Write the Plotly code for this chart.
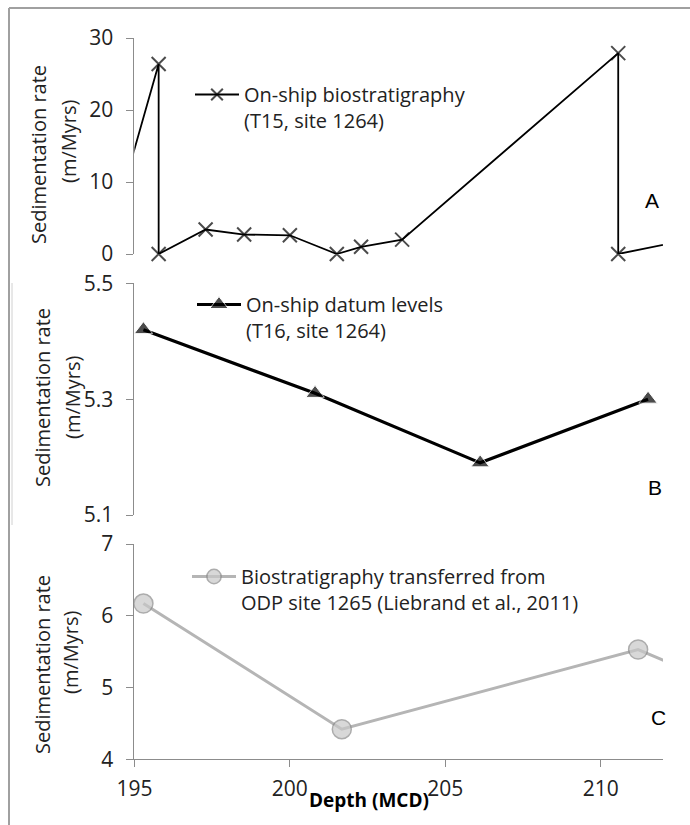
import plotly.graph_objects as go

# Depth (MCD) and sedimentation rate (m/Myrs) for the three age models
depth_a = [194.4, 195.78, 195.78, 197.29, 198.53, 200.0, 201.51, 202.29, 203.61, 210.56, 210.56, 213.5]
rate_a = [5.4, 26.4, 0.0, 3.4, 2.7, 2.6, 0.0, 1.0, 2.0, 27.9, 0.0, 2.6]

depth_b = [195.29, 200.81, 206.12, 211.52]
rate_b = [5.42, 5.31, 5.19, 5.30]

depth_c = [195.29, 201.67, 211.2, 213.5]
rate_c = [6.17, 4.42, 5.53, 5.10]

name_a = "On-ship biostratigraphy<br>(T15, site 1264)"
name_b = "On-ship datum levels<br>(T16, site 1264)"
name_c = "Biostratigraphy transferred from<br>ODP site 1265 (Liebrand et al., 2011)"

x_ticks = [195, 200, 205, 210]
x_range = [195, 212]
ytitle_1 = "Sedimentation rate"
ytitle_2 = "(m/Myrs)"

FONT = "Open Sans"
TXT = "#222222"
AX = "#8c8c8c"
W, H = 690, 825


def sizes(xs, size):
    # markers beyond the depth window are hidden; the line still runs off the edge
    return [size if x_range[0] <= x <= x_range[1] else 0 for x in xs]


fig = go.Figure()

fig.add_trace(go.Scatter(
    x=depth_a, y=rate_a, name=name_a, mode="lines+markers",
    xaxis="x2", yaxis="y", legend="legend", cliponaxis=False,
    line=dict(color="black", width=1.8),
    marker=dict(symbol="x-thin", size=sizes(depth_a, 14),
                line=dict(color="black", width=2)),
))
fig.add_trace(go.Scatter(
    x=depth_b, y=rate_b, name=name_b, mode="lines+markers",
    xaxis="x3", yaxis="y2", legend="legend2", cliponaxis=False,
    line=dict(color="black", width=3.2),
    marker=dict(symbol="triangle-up", size=sizes(depth_b, 16), color="black"),
))
fig.add_trace(go.Scatter(
    x=depth_c, y=rate_c, name=name_c, mode="lines+markers",
    xaxis="x", yaxis="y3", legend="legend3", cliponaxis=False,
    line=dict(color="#b5b5b5", width=3),
    marker=dict(symbol="circle", size=sizes(depth_c, 19), color="#c8c8c8",
                line=dict(color="#8a8a8a", width=1.5)),
))

xd = [134.4 / W, 663 / W]


def ydom(top_px, bottom_px):
    return [1 - bottom_px / H, 1 - top_px / H]


yaxis_common = dict(
    showline=True, linecolor=AX, linewidth=1, ticks="outside", ticklen=7,
    tickcolor=AX, showgrid=False, zeroline=False, ticklabelstandoff=9,
    automargin=False,
    tickfont=dict(family=FONT, size=21, color=TXT),
)

fig.update_layout(
    width=W, height=H, autosize=False,
    margin=dict(l=0, r=0, t=0, b=0, pad=0, autoexpand=False),
    paper_bgcolor="white", plot_bgcolor="rgba(0,0,0,0)",
    font=dict(family=FONT, color=TXT),
    showlegend=True,
    xaxis=dict(domain=xd, range=x_range, anchor="y3", tickvals=x_ticks,
               showline=True, linecolor=AX, linewidth=1, ticks="outside",
               ticklen=7, tickcolor=AX, showgrid=False, zeroline=False,
               ticklabelstandoff=3, automargin=False,
               tickfont=dict(family=FONT, size=21, color=TXT)),
    xaxis2=dict(domain=xd, range=x_range, anchor="y", visible=False),
    xaxis3=dict(domain=xd, range=x_range, anchor="y2", visible=False),
    yaxis=dict(domain=ydom(38, 254), range=[0, 30], tickvals=[0, 10, 20, 30],
               anchor="x2", **yaxis_common),
    yaxis2=dict(domain=ydom(283.3, 515), range=[5.1, 5.5],
                tickvals=[5.1, 5.3, 5.5], anchor="x3", **yaxis_common),
    yaxis3=dict(domain=ydom(544, 759.3), range=[4, 7], tickvals=[4, 5, 6, 7],
                anchor="x", **yaxis_common),
)

legend_common = dict(
    bgcolor="rgba(0,0,0,0)", borderwidth=0, valign="top", itemwidth=44,
    font=dict(family=FONT, size=20, color=TXT), xanchor="left", yanchor="top",
    tracegroupgap=0, itemclick=False, itemdoubleclick=False,
)
fig.update_layout(
    legend=dict(x=190 / W, y=1 - 75 / H, **legend_common),
    legend2=dict(x=192 / W, y=1 - 285 / H, **legend_common),
    legend3=dict(x=187 / W, y=1 - 557 / H, **legend_common),
)

# y-axis titles, two centred lines per panel
titles = [(38, 155, 68, 142), (42, 398, 72, 398), (42, 665, 70, 653)]
for x1, y1, x2, y2 in titles:
    for text, xx, yy in [(ytitle_1, x1, y1), (ytitle_2, x2, y2)]:
        fig.add_annotation(text=text, x=xx / W, y=1 - yy / H, xref="paper",
                           yref="paper", textangle=-90, showarrow=False,
                           xanchor="center", yanchor="middle",
                           font=dict(family=FONT, size=20, color=TXT))

# x-axis title
fig.add_annotation(text="<b>Depth (MCD)</b>", x=369 / W, y=1 - 800 / H,
                   xref="paper", yref="paper", showarrow=False,
                   xanchor="center", yanchor="middle",
                   font=dict(family=FONT, size=19, color="black"))

# panel letters
for letter, px, py in [("A", 652, 200), ("B", 655, 487), ("C", 658, 717)]:
    fig.add_annotation(text=letter, x=px / W, y=1 - py / H, xref="paper",
                       yref="paper", showarrow=False,
                       xanchor="center", yanchor="middle",
                       font=dict(family="Liberation Sans", size=21, color="black"))

# panel frames
fig.add_shape(type="line", xref="paper", yref="paper", x0=9 / W, x1=1,
              y0=1 - 8 / H, y1=1 - 8 / H, line=dict(color="#a0a0a0", width=2))
fig.add_shape(type="line", xref="paper", yref="paper", x0=9 / W, x1=9 / W,
              y0=1 - 8 / H, y1=0, line=dict(color="#a0a0a0", width=2))
fig.add_shape(type="line", xref="paper", yref="paper", x0=12 / W, x1=12 / W,
              y0=1 - 283 / H, y1=1 - 525 / H, line=dict(color="#d0d0d0", width=1))

fig.write_html("out.html")
